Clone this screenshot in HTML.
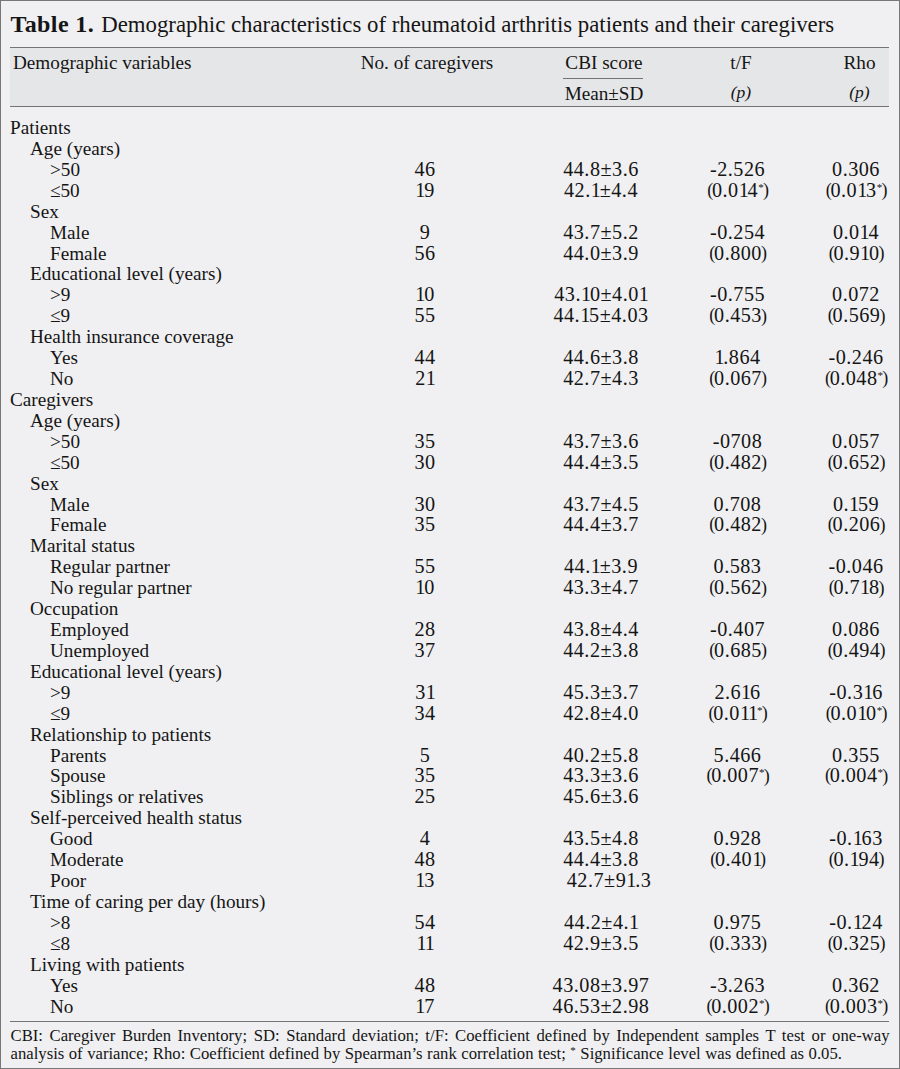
<!DOCTYPE html>
<html><head><meta charset="utf-8"><style>
html,body{margin:0;padding:0}
body{width:900px;height:1069px;position:relative;overflow:hidden;background:#f0f0f2;font-family:"Liberation Serif",serif;color:#151515}
.frame{position:absolute;left:0;top:0;width:898px;height:1067px;border:1px solid #777}
.t{position:absolute;white-space:nowrap;font-size:19.2px;line-height:20.905px;height:20.905px}
.c{position:absolute;white-space:nowrap;font-size:19.2px;line-height:20.905px;height:20.905px;width:200px;text-align:center}
.num{font-size:20.2px;letter-spacing:0.5px;position:relative;top:-1px}
.one{letter-spacing:-1.2px}
.par{letter-spacing:-1.3px;font-size:18px;line-height:0;vertical-align:0.7px}
.ast{line-height:0;font-size:11px;vertical-align:6px;letter-spacing:0.3px}
.pr{margin-left:-1.0px}
.hline{position:absolute;left:10px;width:879px;height:1px;background:#747474}
</style></head><body>
<div class="frame"></div>

<div class="t" style="left:10.5px;top:9.30px;font-size:22.8px;line-height:30px;height:30px"><b style="letter-spacing:0.4px;font-size:24px">Table 1.</b> <span style="letter-spacing:0px;margin-left:1.3px">Demographic characteristics of rheumatoid arthritis patients and their caregivers</span></div>
<div style="position:absolute;left:10px;top:47px;width:879px;height:59px;background:#e5e6e8"></div>
<div class="hline" style="top:47px"></div>
<div class="hline" style="top:106px"></div>
<div class="t" style="left:13.00px;top:53.07px">Demographic variables</div>
<div class="c" style="left:327.00px;top:53.07px">No. of caregivers</div>
<div class="c" style="left:504.00px;top:53.07px">CBI score</div>
<div class="c" style="left:504.00px;top:83.87px">Mean±SD</div>
<div class="c" style="left:641.00px;top:53.07px">t/F</div>
<div class="c" style="left:641.00px;top:83.87px"><i style="font-size:17.5px;position:relative;top:-1.5px">(p)</i></div>
<div class="c" style="left:759.50px;top:53.07px">Rho</div>
<div class="c" style="left:759.50px;top:83.87px"><i style="font-size:17.5px;position:relative;top:-1.5px">(p)</i></div>
<div style="position:absolute;left:563px;top:78px;width:80px;height:1px;background:#747474"></div>
<div class="t" style="left:10.00px;top:118.07px">Patients</div>
<div class="t" style="left:30.00px;top:138.98px">Age (years)</div>
<div class="t" style="left:50.00px;top:159.90px">&gt;50</div>
<div class="c" style="left:325.00px;top:159.90px"><span class="num">46</span></div>
<div class="c" style="left:501.00px;top:159.90px"><span class="num">44.8±3.6</span></div>
<div class="c" style="left:637.50px;top:159.90px"><span class="num">-2.526</span></div>
<div class="c" style="left:756.00px;top:159.90px"><span class="num">0.306</span></div>
<div class="t" style="left:50.00px;top:180.81px">≤50</div>
<div class="c" style="left:325.00px;top:180.81px"><span class="num"><span class="one">1</span>9</span></div>
<div class="c" style="left:501.00px;top:180.81px"><span class="num">42.<span class="one">1</span>±4.4</span></div>
<div class="c" style="left:637.50px;top:180.81px"><span class="num"><span class="par">(</span>0.0<span class="one">1</span>4<span class="ast">*</span><span class="par pr">)</span></span></div>
<div class="c" style="left:756.00px;top:180.81px"><span class="num"><span class="par">(</span>0.0<span class="one">1</span>3<span class="ast">*</span><span class="par pr">)</span></span></div>
<div class="t" style="left:30.00px;top:201.73px">Sex</div>
<div class="t" style="left:50.00px;top:222.64px">Male</div>
<div class="c" style="left:325.00px;top:222.64px"><span class="num">9</span></div>
<div class="c" style="left:501.00px;top:222.64px"><span class="num">43.7±5.2</span></div>
<div class="c" style="left:637.50px;top:222.64px"><span class="num">-0.254</span></div>
<div class="c" style="left:756.00px;top:222.64px"><span class="num">0.0<span class="one">1</span>4</span></div>
<div class="t" style="left:50.00px;top:243.56px">Female</div>
<div class="c" style="left:325.00px;top:243.56px"><span class="num">56</span></div>
<div class="c" style="left:501.00px;top:243.56px"><span class="num">44.0±3.9</span></div>
<div class="c" style="left:637.50px;top:243.56px"><span class="num"><span class="par">(</span>0.800<span class="par pr">)</span></span></div>
<div class="c" style="left:756.00px;top:243.56px"><span class="num"><span class="par">(</span>0.9<span class="one">1</span>0<span class="par pr">)</span></span></div>
<div class="t" style="left:30.00px;top:264.47px">Educational level (years)</div>
<div class="t" style="left:50.00px;top:285.39px">&gt;9</div>
<div class="c" style="left:325.00px;top:285.39px"><span class="num"><span class="one">1</span>0</span></div>
<div class="c" style="left:501.00px;top:285.39px"><span class="num">43.<span class="one">1</span>0±4.0<span class="one">1</span></span></div>
<div class="c" style="left:637.50px;top:285.39px"><span class="num">-0.755</span></div>
<div class="c" style="left:756.00px;top:285.39px"><span class="num">0.072</span></div>
<div class="t" style="left:50.00px;top:306.30px">≤9</div>
<div class="c" style="left:325.00px;top:306.30px"><span class="num">55</span></div>
<div class="c" style="left:501.00px;top:306.30px"><span class="num">44.<span class="one">1</span>5±4.03</span></div>
<div class="c" style="left:637.50px;top:306.30px"><span class="num"><span class="par">(</span>0.453<span class="par pr">)</span></span></div>
<div class="c" style="left:756.00px;top:306.30px"><span class="num"><span class="par">(</span>0.569<span class="par pr">)</span></span></div>
<div class="t" style="left:30.00px;top:327.22px">Health insurance coverage</div>
<div class="t" style="left:50.00px;top:348.13px">Yes</div>
<div class="c" style="left:325.00px;top:348.13px"><span class="num">44</span></div>
<div class="c" style="left:501.00px;top:348.13px"><span class="num">44.6±3.8</span></div>
<div class="c" style="left:637.50px;top:348.13px"><span class="num"><span class="one">1</span>.864</span></div>
<div class="c" style="left:756.00px;top:348.13px"><span class="num">-0.246</span></div>
<div class="t" style="left:50.00px;top:369.05px">No</div>
<div class="c" style="left:325.00px;top:369.05px"><span class="num">2<span class="one">1</span></span></div>
<div class="c" style="left:501.00px;top:369.05px"><span class="num">42.7±4.3</span></div>
<div class="c" style="left:637.50px;top:369.05px"><span class="num"><span class="par">(</span>0.067<span class="par pr">)</span></span></div>
<div class="c" style="left:756.00px;top:369.05px"><span class="num"><span class="par">(</span>0.048<span class="ast">*</span><span class="par pr">)</span></span></div>
<div class="t" style="left:10.00px;top:389.96px">Caregivers</div>
<div class="t" style="left:30.00px;top:410.88px">Age (years)</div>
<div class="t" style="left:50.00px;top:431.79px">&gt;50</div>
<div class="c" style="left:325.00px;top:431.79px"><span class="num">35</span></div>
<div class="c" style="left:501.00px;top:431.79px"><span class="num">43.7±3.6</span></div>
<div class="c" style="left:637.50px;top:431.79px"><span class="num">-0708</span></div>
<div class="c" style="left:756.00px;top:431.79px"><span class="num">0.057</span></div>
<div class="t" style="left:50.00px;top:452.71px">≤50</div>
<div class="c" style="left:325.00px;top:452.71px"><span class="num">30</span></div>
<div class="c" style="left:501.00px;top:452.71px"><span class="num">44.4±3.5</span></div>
<div class="c" style="left:637.50px;top:452.71px"><span class="num"><span class="par">(</span>0.482<span class="par pr">)</span></span></div>
<div class="c" style="left:756.00px;top:452.71px"><span class="num"><span class="par">(</span>0.652<span class="par pr">)</span></span></div>
<div class="t" style="left:30.00px;top:473.62px">Sex</div>
<div class="t" style="left:50.00px;top:494.54px">Male</div>
<div class="c" style="left:325.00px;top:494.54px"><span class="num">30</span></div>
<div class="c" style="left:501.00px;top:494.54px"><span class="num">43.7±4.5</span></div>
<div class="c" style="left:637.50px;top:494.54px"><span class="num">0.708</span></div>
<div class="c" style="left:756.00px;top:494.54px"><span class="num">0.<span class="one">1</span>59</span></div>
<div class="t" style="left:50.00px;top:515.45px">Female</div>
<div class="c" style="left:325.00px;top:515.45px"><span class="num">35</span></div>
<div class="c" style="left:501.00px;top:515.45px"><span class="num">44.4±3.7</span></div>
<div class="c" style="left:637.50px;top:515.45px"><span class="num"><span class="par">(</span>0.482<span class="par pr">)</span></span></div>
<div class="c" style="left:756.00px;top:515.45px"><span class="num"><span class="par">(</span>0.206<span class="par pr">)</span></span></div>
<div class="t" style="left:30.00px;top:536.37px">Marital status</div>
<div class="t" style="left:50.00px;top:557.28px">Regular partner</div>
<div class="c" style="left:325.00px;top:557.28px"><span class="num">55</span></div>
<div class="c" style="left:501.00px;top:557.28px"><span class="num">44.<span class="one">1</span>±3.9</span></div>
<div class="c" style="left:637.50px;top:557.28px"><span class="num">0.583</span></div>
<div class="c" style="left:756.00px;top:557.28px"><span class="num">-0.046</span></div>
<div class="t" style="left:50.00px;top:578.20px">No regular partner</div>
<div class="c" style="left:325.00px;top:578.20px"><span class="num"><span class="one">1</span>0</span></div>
<div class="c" style="left:501.00px;top:578.20px"><span class="num">43.3±4.7</span></div>
<div class="c" style="left:637.50px;top:578.20px"><span class="num"><span class="par">(</span>0.562<span class="par pr">)</span></span></div>
<div class="c" style="left:756.00px;top:578.20px"><span class="num"><span class="par">(</span>0.7<span class="one">1</span>8<span class="par pr">)</span></span></div>
<div class="t" style="left:30.00px;top:599.11px">Occupation</div>
<div class="t" style="left:50.00px;top:620.03px">Employed</div>
<div class="c" style="left:325.00px;top:620.03px"><span class="num">28</span></div>
<div class="c" style="left:501.00px;top:620.03px"><span class="num">43.8±4.4</span></div>
<div class="c" style="left:637.50px;top:620.03px"><span class="num">-0.407</span></div>
<div class="c" style="left:756.00px;top:620.03px"><span class="num">0.086</span></div>
<div class="t" style="left:50.00px;top:640.94px">Unemployed</div>
<div class="c" style="left:325.00px;top:640.94px"><span class="num">37</span></div>
<div class="c" style="left:501.00px;top:640.94px"><span class="num">44.2±3.8</span></div>
<div class="c" style="left:637.50px;top:640.94px"><span class="num"><span class="par">(</span>0.685<span class="par pr">)</span></span></div>
<div class="c" style="left:756.00px;top:640.94px"><span class="num"><span class="par">(</span>0.494<span class="par pr">)</span></span></div>
<div class="t" style="left:30.00px;top:661.86px">Educational level (years)</div>
<div class="t" style="left:50.00px;top:682.77px">&gt;9</div>
<div class="c" style="left:325.00px;top:682.77px"><span class="num">3<span class="one">1</span></span></div>
<div class="c" style="left:501.00px;top:682.77px"><span class="num">45.3±3.7</span></div>
<div class="c" style="left:637.50px;top:682.77px"><span class="num">2.6<span class="one">1</span>6</span></div>
<div class="c" style="left:756.00px;top:682.77px"><span class="num">-0.3<span class="one">1</span>6</span></div>
<div class="t" style="left:50.00px;top:703.69px">≤9</div>
<div class="c" style="left:325.00px;top:703.69px"><span class="num">34</span></div>
<div class="c" style="left:501.00px;top:703.69px"><span class="num">42.8±4.0</span></div>
<div class="c" style="left:637.50px;top:703.69px"><span class="num"><span class="par">(</span>0.0<span class="one">1</span><span class="one">1</span><span class="ast">*</span><span class="par pr">)</span></span></div>
<div class="c" style="left:756.00px;top:703.69px"><span class="num"><span class="par">(</span>0.0<span class="one">1</span>0<span class="ast">*</span><span class="par pr">)</span></span></div>
<div class="t" style="left:30.00px;top:724.60px">Relationship to patients</div>
<div class="t" style="left:50.00px;top:745.52px">Parents</div>
<div class="c" style="left:325.00px;top:745.52px"><span class="num">5</span></div>
<div class="c" style="left:501.00px;top:745.52px"><span class="num">40.2±5.8</span></div>
<div class="c" style="left:637.50px;top:745.52px"><span class="num">5.466</span></div>
<div class="c" style="left:756.00px;top:745.52px"><span class="num">0.355</span></div>
<div class="t" style="left:50.00px;top:766.43px">Spouse</div>
<div class="c" style="left:325.00px;top:766.43px"><span class="num">35</span></div>
<div class="c" style="left:501.00px;top:766.43px"><span class="num">43.3±3.6</span></div>
<div class="c" style="left:637.50px;top:766.43px"><span class="num"><span class="par">(</span>0.007<span class="ast">*</span><span class="par pr">)</span></span></div>
<div class="c" style="left:756.00px;top:766.43px"><span class="num"><span class="par">(</span>0.004<span class="ast">*</span><span class="par pr">)</span></span></div>
<div class="t" style="left:50.00px;top:787.35px">Siblings or relatives</div>
<div class="c" style="left:325.00px;top:787.35px"><span class="num">25</span></div>
<div class="c" style="left:501.00px;top:787.35px"><span class="num">45.6±3.6</span></div>
<div class="t" style="left:30.00px;top:808.26px">Self-perceived health status</div>
<div class="t" style="left:50.00px;top:829.18px">Good</div>
<div class="c" style="left:325.00px;top:829.18px"><span class="num">4</span></div>
<div class="c" style="left:501.00px;top:829.18px"><span class="num">43.5±4.8</span></div>
<div class="c" style="left:637.50px;top:829.18px"><span class="num">0.928</span></div>
<div class="c" style="left:756.00px;top:829.18px"><span class="num">-0.<span class="one">1</span>63</span></div>
<div class="t" style="left:50.00px;top:850.09px">Moderate</div>
<div class="c" style="left:325.00px;top:850.09px"><span class="num">48</span></div>
<div class="c" style="left:501.00px;top:850.09px"><span class="num">44.4±3.8</span></div>
<div class="c" style="left:637.50px;top:850.09px"><span class="num"><span class="par">(</span>0.40<span class="one">1</span><span class="par pr">)</span></span></div>
<div class="c" style="left:756.00px;top:850.09px"><span class="num"><span class="par">(</span>0.<span class="one">1</span>94<span class="par pr">)</span></span></div>
<div class="t" style="left:50.00px;top:871.01px">Poor</div>
<div class="c" style="left:325.00px;top:871.01px"><span class="num"><span class="one">1</span>3</span></div>
<div class="c" style="left:509.00px;top:871.01px"><span class="num">42.7±9<span class="one">1</span>.3</span></div>
<div class="t" style="left:30.00px;top:891.92px">Time of caring per day (hours)</div>
<div class="t" style="left:50.00px;top:912.84px">&gt;8</div>
<div class="c" style="left:325.00px;top:912.84px"><span class="num">54</span></div>
<div class="c" style="left:501.00px;top:912.84px"><span class="num">44.2±4.<span class="one">1</span></span></div>
<div class="c" style="left:637.50px;top:912.84px"><span class="num">0.975</span></div>
<div class="c" style="left:756.00px;top:912.84px"><span class="num">-0.<span class="one">1</span>24</span></div>
<div class="t" style="left:50.00px;top:933.75px">≤8</div>
<div class="c" style="left:325.00px;top:933.75px"><span class="num"><span class="one">1</span><span class="one">1</span></span></div>
<div class="c" style="left:501.00px;top:933.75px"><span class="num">42.9±3.5</span></div>
<div class="c" style="left:637.50px;top:933.75px"><span class="num"><span class="par">(</span>0.333<span class="par pr">)</span></span></div>
<div class="c" style="left:756.00px;top:933.75px"><span class="num"><span class="par">(</span>0.325<span class="par pr">)</span></span></div>
<div class="t" style="left:30.00px;top:954.67px">Living with patients</div>
<div class="t" style="left:50.00px;top:975.58px">Yes</div>
<div class="c" style="left:325.00px;top:975.58px"><span class="num">48</span></div>
<div class="c" style="left:501.00px;top:975.58px"><span class="num">43.08±3.97</span></div>
<div class="c" style="left:637.50px;top:975.58px"><span class="num">-3.263</span></div>
<div class="c" style="left:756.00px;top:975.58px"><span class="num">0.362</span></div>
<div class="t" style="left:50.00px;top:996.50px">No</div>
<div class="c" style="left:325.00px;top:996.50px"><span class="num"><span class="one">1</span>7</span></div>
<div class="c" style="left:501.00px;top:996.50px"><span class="num">46.53±2.98</span></div>
<div class="c" style="left:637.50px;top:996.50px"><span class="num"><span class="par">(</span>0.002<span class="ast">*</span><span class="par pr">)</span></span></div>
<div class="c" style="left:756.00px;top:996.50px"><span class="num"><span class="par">(</span>0.003<span class="ast">*</span><span class="par pr">)</span></span></div>
<div class="hline" style="top:1021px"></div>
<div style="position:absolute;left:10.5px;width:879px;top:1026.66px;font-size:16.7px;line-height:18px;height:18px;text-align:justify;text-align-last:justify;white-space:nowrap">CBI: Caregiver Burden Inventory; SD: Standard deviation; t/F: Coefficient defined by Independent samples T test or one-way</div>
<div style="position:absolute;left:10.5px;top:1044.66px;font-size:16.7px;line-height:18px;height:18px;white-space:nowrap;letter-spacing:0px;word-spacing:0.33px">analysis of variance; Rho: Coefficient defined by Spearman’s rank correlation test; <span style="font-size:11px;vertical-align:5px;line-height:0">*</span> Significance level was defined as 0.05.</div>
</body></html>
